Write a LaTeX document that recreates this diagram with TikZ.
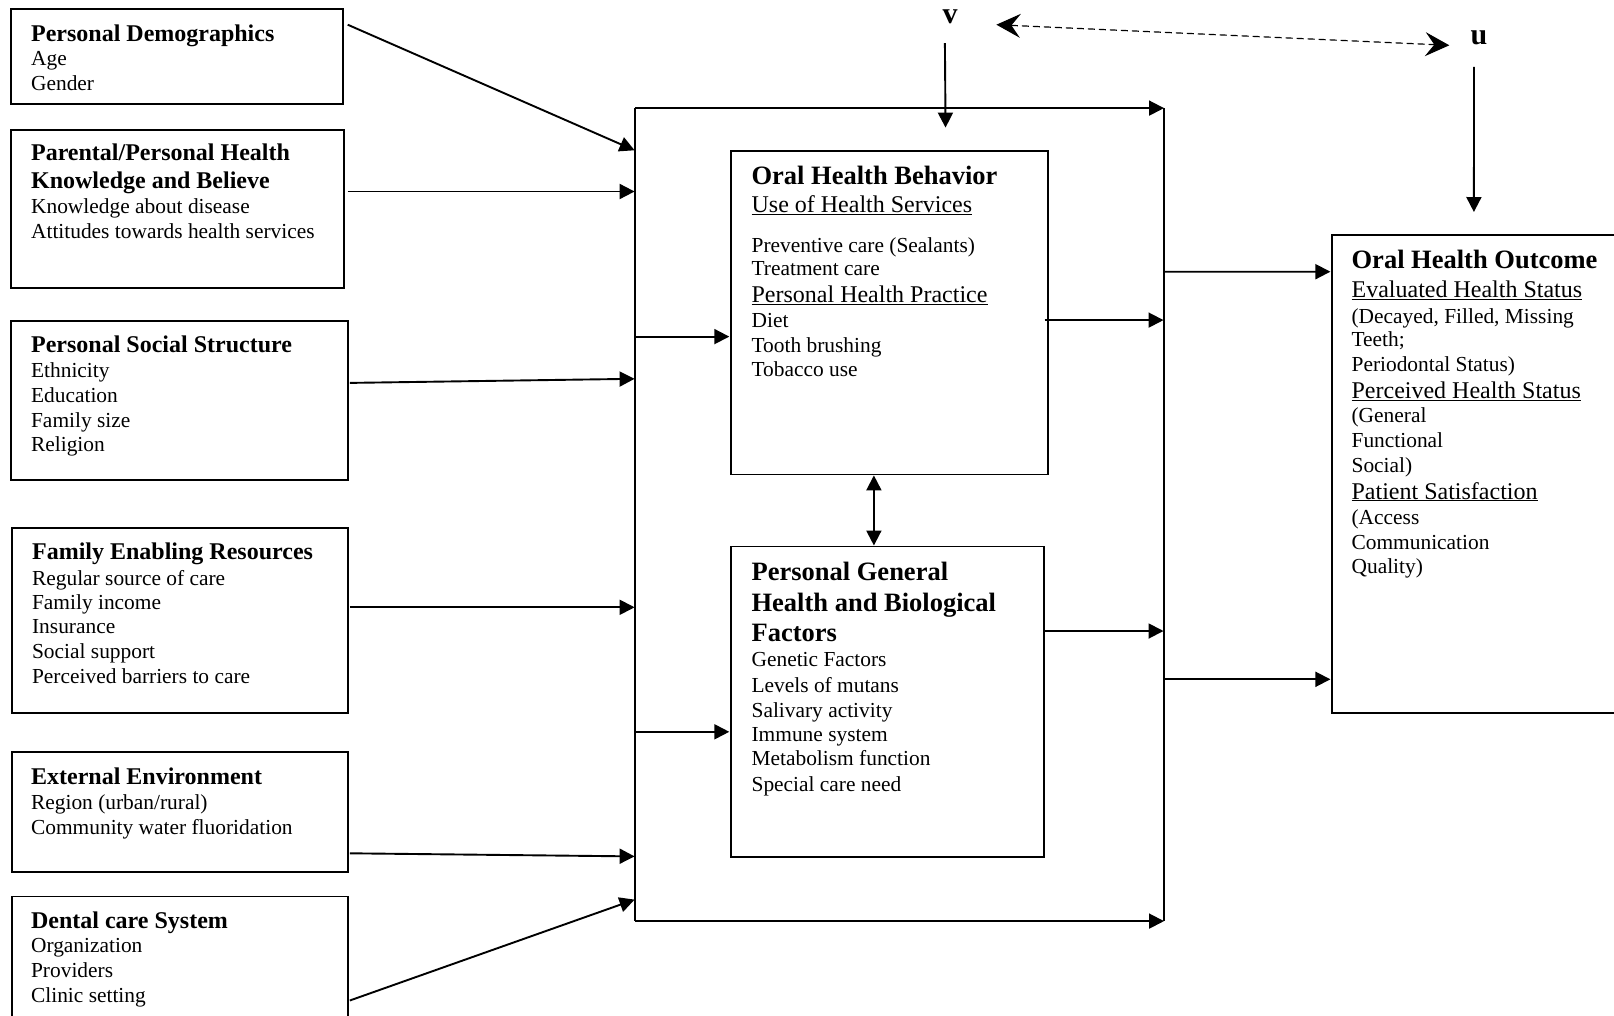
\documentclass[tikz,border=0pt]{standalone}
\usepackage{fontspec}
\setmainfont{Liberation Serif}
\usetikzlibrary{arrows.meta,calc}
\begin{document}
\begin{tikzpicture}[x=1pt,y=-1pt,
  box/.style={draw, line width=1.9pt, inner sep=0pt, anchor=north west},
  ln/.style={anchor=west, inner sep=0pt, yshift=-2pt, font=\fontsize{21.4}{24}\selectfont, text height=14pt, text depth=4pt},
  hd/.style={ln, font=\fontsize{24}{28}\selectfont\bfseries},
  bighd/.style={ln, font=\fontsize{26.5}{30}\selectfont\bfseries},
  ul/.style={ln, font=\fontsize{24}{28}\selectfont},
  arr/.style={line width=1.9pt, -{Triangle[length=15pt,width=15pt]}},
  darr/.style={line width=1.9pt, {Triangle[length=15pt,width=15pt]}-{Triangle[length=15pt,width=15pt]}},
  dasharr/.style={line width=1.2pt, dash pattern=on 7pt off 4pt, {Stealth[length=24pt,width=24pt,inset=9pt]}-{Stealth[length=24pt,width=24pt,inset=9pt]}},
  lbl/.style={inner sep=0pt, font=\fontsize{30}{32}\selectfont\bfseries}
]
\useasboundingbox (0,0) rectangle (1614,1015);
\clip (0,0) rectangle (1614,1015);
\fill[white] (0,0) rectangle (1614,1015);

% boxes
\node[box, minimum width=331.4pt, minimum height=94.7pt] (b1) at (10.3,8.2) {};
\node[box, minimum width=332.5pt, minimum height=158.5pt] (b2) at (10.3,128.7) {};
\node[box, minimum width=336.6pt, minimum height=158.5pt] (b3) at (10.3,320.1) {};
\node[box, minimum width=335.6pt, minimum height=185.3pt] (b4) at (11.3,527.0) {};
\node[box, minimum width=335.6pt, minimum height=119.4pt] (b5) at (11.3,751.4) {};
\node[box, minimum width=335.6pt, minimum height=140pt] (b6) at (11.3,895.5) {};
\node[box, draw=none, minimum width=527pt, minimum height=811.1pt] (F) at (635.1,108.1) {};
\node[box, minimum width=317pt, minimum height=323.2pt] (cb1) at (729.8,150.3) {};
\node[box, minimum width=312.9pt, minimum height=310.9pt] (cb2) at (729.8,545.5) {};
\node[box, minimum width=300pt, minimum height=478.6pt] (rb) at (1330.9,233.7) {};

% texts left
\node[hd] (t11) at (30.9,34.0) {Personal Demographics};
\node[ln] (t12) at (30.9,58.7) {Age};
\node[ln] (t13) at (30.9,83.4) {Gender};

\node[hd] (t21) at (30.9,153.4) {Parental/Personal Health};
\node[hd] (t22) at (30.9,181.2) {Knowledge and Believe};
\node[ln] (t23) at (30.9,206.9) {Knowledge about disease};
\node[ln] (t24) at (30.9,231.6) {Attitudes towards health services};

\node[hd] (t31) at (30.9,345.8) {Personal Social Structure};
\node[ln] (t32) at (30.9,370.5) {Ethnicity};
\node[ln] (t33) at (30.9,395.3) {Education};
\node[ln] (t34) at (30.9,420.0) {Family size};
\node[ln] (t35) at (30.9,444.7) {Religion};

\node[hd] (t41) at (31.9,552.7) {Family Enabling Resources};
\node[ln] (t42) at (31.9,578.5) {Regular source of care};
\node[ln] (t43) at (31.9,602.1) {Family income};
\node[ln] (t44) at (31.9,626.8) {Insurance};
\node[ln] (t45) at (31.9,651.5) {Social support};
\node[ln] (t46) at (31.9,676.3) {Perceived barriers to care};

\node[hd] (t51) at (30.9,777.1) {External Environment};
\node[ln] (t52) at (30.9,802.9) {Region (urban/rural)};
\node[ln] (t53) at (30.9,827.6) {Community water fluoridation};

\node[hd] (t61) at (30.9,921.2) {Dental care System};
\node[ln] (t62) at (30.9,945.9) {Organization};
\node[ln] (t63) at (30.9,970.6) {Providers};
\node[ln] (t64) at (30.9,995.3) {Clinic setting};

% center box 1
\node[bighd] (c11) at (751.4,177.0) {Oral Health Behavior};
\node[ul] (c12) at (751.4,205.9) {\underline{Use of Health Services}};
\node[ln] (c13) at (751.4,245.0) {Preventive care (Sealants)};
\node[ln] (c14) at (751.4,268.6) {Treatment care};
\node[ul] (c15) at (751.4,295.4) {\underline{Personal Health Practice}};
\node[ln] (c16) at (751.4,320.1) {Diet};
\node[ln] (c17) at (751.4,345.8) {Tooth brushing};
\node[ln] (c18) at (751.4,369.5) {Tobacco use};

% center box 2
\node[bighd] (c21) at (751.4,573.3) {Personal General};
\node[bighd] (c22) at (751.4,604.2) {Health and Biological};
\node[bighd] (c23) at (751.4,634.0) {Factors};
\node[ln] (c24) at (751.4,659.8) {Genetic Factors};
\node[ln] (c25) at (751.4,685.5) {Levels of mutans};
\node[ln] (c26) at (751.4,710.2) {Salivary activity};
\node[ln] (c27) at (751.4,734.9) {Immune system};
\node[ln] (c28) at (751.4,758.6) {Metabolism function};
\node[ln] (c29) at (751.4,784.3) {Special care need};

% right box
\node[bighd] (r1) at (1351.4,261.4) {Oral Health Outcome};
\node[ul] (r2) at (1351.4,290.3) {\underline{Evaluated Health Status}};
\node[ln] (r3) at (1351.4,316.0) {(Decayed, Filled, Missing};
\node[ln] (r4) at (1351.4,339.7) {Teeth;};
\node[ln] (r5) at (1351.4,364.4) {Periodontal Status)};
\node[ul] (r6) at (1351.4,391.1) {\underline{Perceived Health Status}};
\node[ln] (r7) at (1351.4,415.8) {(General};
\node[ln] (r8) at (1351.4,440.5) {Functional};
\node[ln] (r9) at (1351.4,465.2) {Social)};
\node[ul] (r10) at (1351.4,492.0) {\underline{Patient Satisfaction}};
\node[ln] (r11) at (1351.4,517.7) {(Access};
\node[ln] (r12) at (1351.4,542.4) {Communication};
\node[ln] (r13) at (1351.4,566.1) {Quality)};

% labels v, u
\node[lbl] (v) at (950,17) {v};
\node[lbl] (u) at (1479,38) {u};

% frame
\draw[line width=1.9pt] (F.north west) -- (F.south west);
\draw[line width=1.9pt] (F.north east) -- (F.south east);
\draw[arr] (F.north west) -- (F.north east);
\draw[arr] (F.south west) -- (F.south east);

% left arrows
\draw[arr] ($(b1.north east)+(4.1,16.5)$) -- ($(F.north west)+(-0.5,42.2)$);
\draw[arr] ($(b2.north east)+(3,62.8)$) -- ($(F.north west)+(-0.5,83.4)$);
\draw[arr] ($(b3.north east)+(1,62.8)$) -- ($(F.north west)+(-0.5,270.7)$);
\draw[arr] ($(b4.north east)+(1,80.3)$) -- ($(F.north west)+(-0.5,499.2)$);
\draw[arr] ($(b5.north east)+(1,101.9)$) -- ($(F.north west)+(-0.5,748.3)$);
\draw[arr] ($(b6.north east)+(1,105)$) -- ($(F.north west)+(-0.5,791.5)$);

% frame to centre boxes
\draw[arr] ($(F.north west)+(0,228.5)$) -- ($(cb1.north west)+(-0.5,186.3)$);
\draw[arr] ($(F.north west)+(0,623.7)$) -- ($(cb2.north west)+(-0.5,186.3)$);

% centre boxes to frame right
\draw[arr] ($(cb1.north east)+(-4,169.8)$) -- ($(F.north east)+(-0.5,212)$);
\draw[arr] ($(cb2.north east)+(0,85.5)$) -- ($(F.north east)+(-0.5,522.9)$);

% frame right to outcome
\draw[arr] ($(F.north east)+(0,163.6)$) -- ($(rb.north west)+(-0.5,38)$);
\draw[arr] ($(F.north east)+(0,571.2)$) -- ($(rb.north west)+(-0.5,445.6)$);

% between centre boxes
\draw[darr] (cb1.south -| 873.9,0) -- (cb2.north -| 873.9,0);

% v and u arrows
\draw[arr] (944.9,43.2) -- ($(F.north)+(46,19.5)$);
\draw[arr] (1474,66.9) -- ($(rb.north west)+(143,-21.7)$);

% dashed double arrow
\draw[dasharr] (996.4,24.7) -- (1449.3,45.3);
\end{tikzpicture}
\end{document}
